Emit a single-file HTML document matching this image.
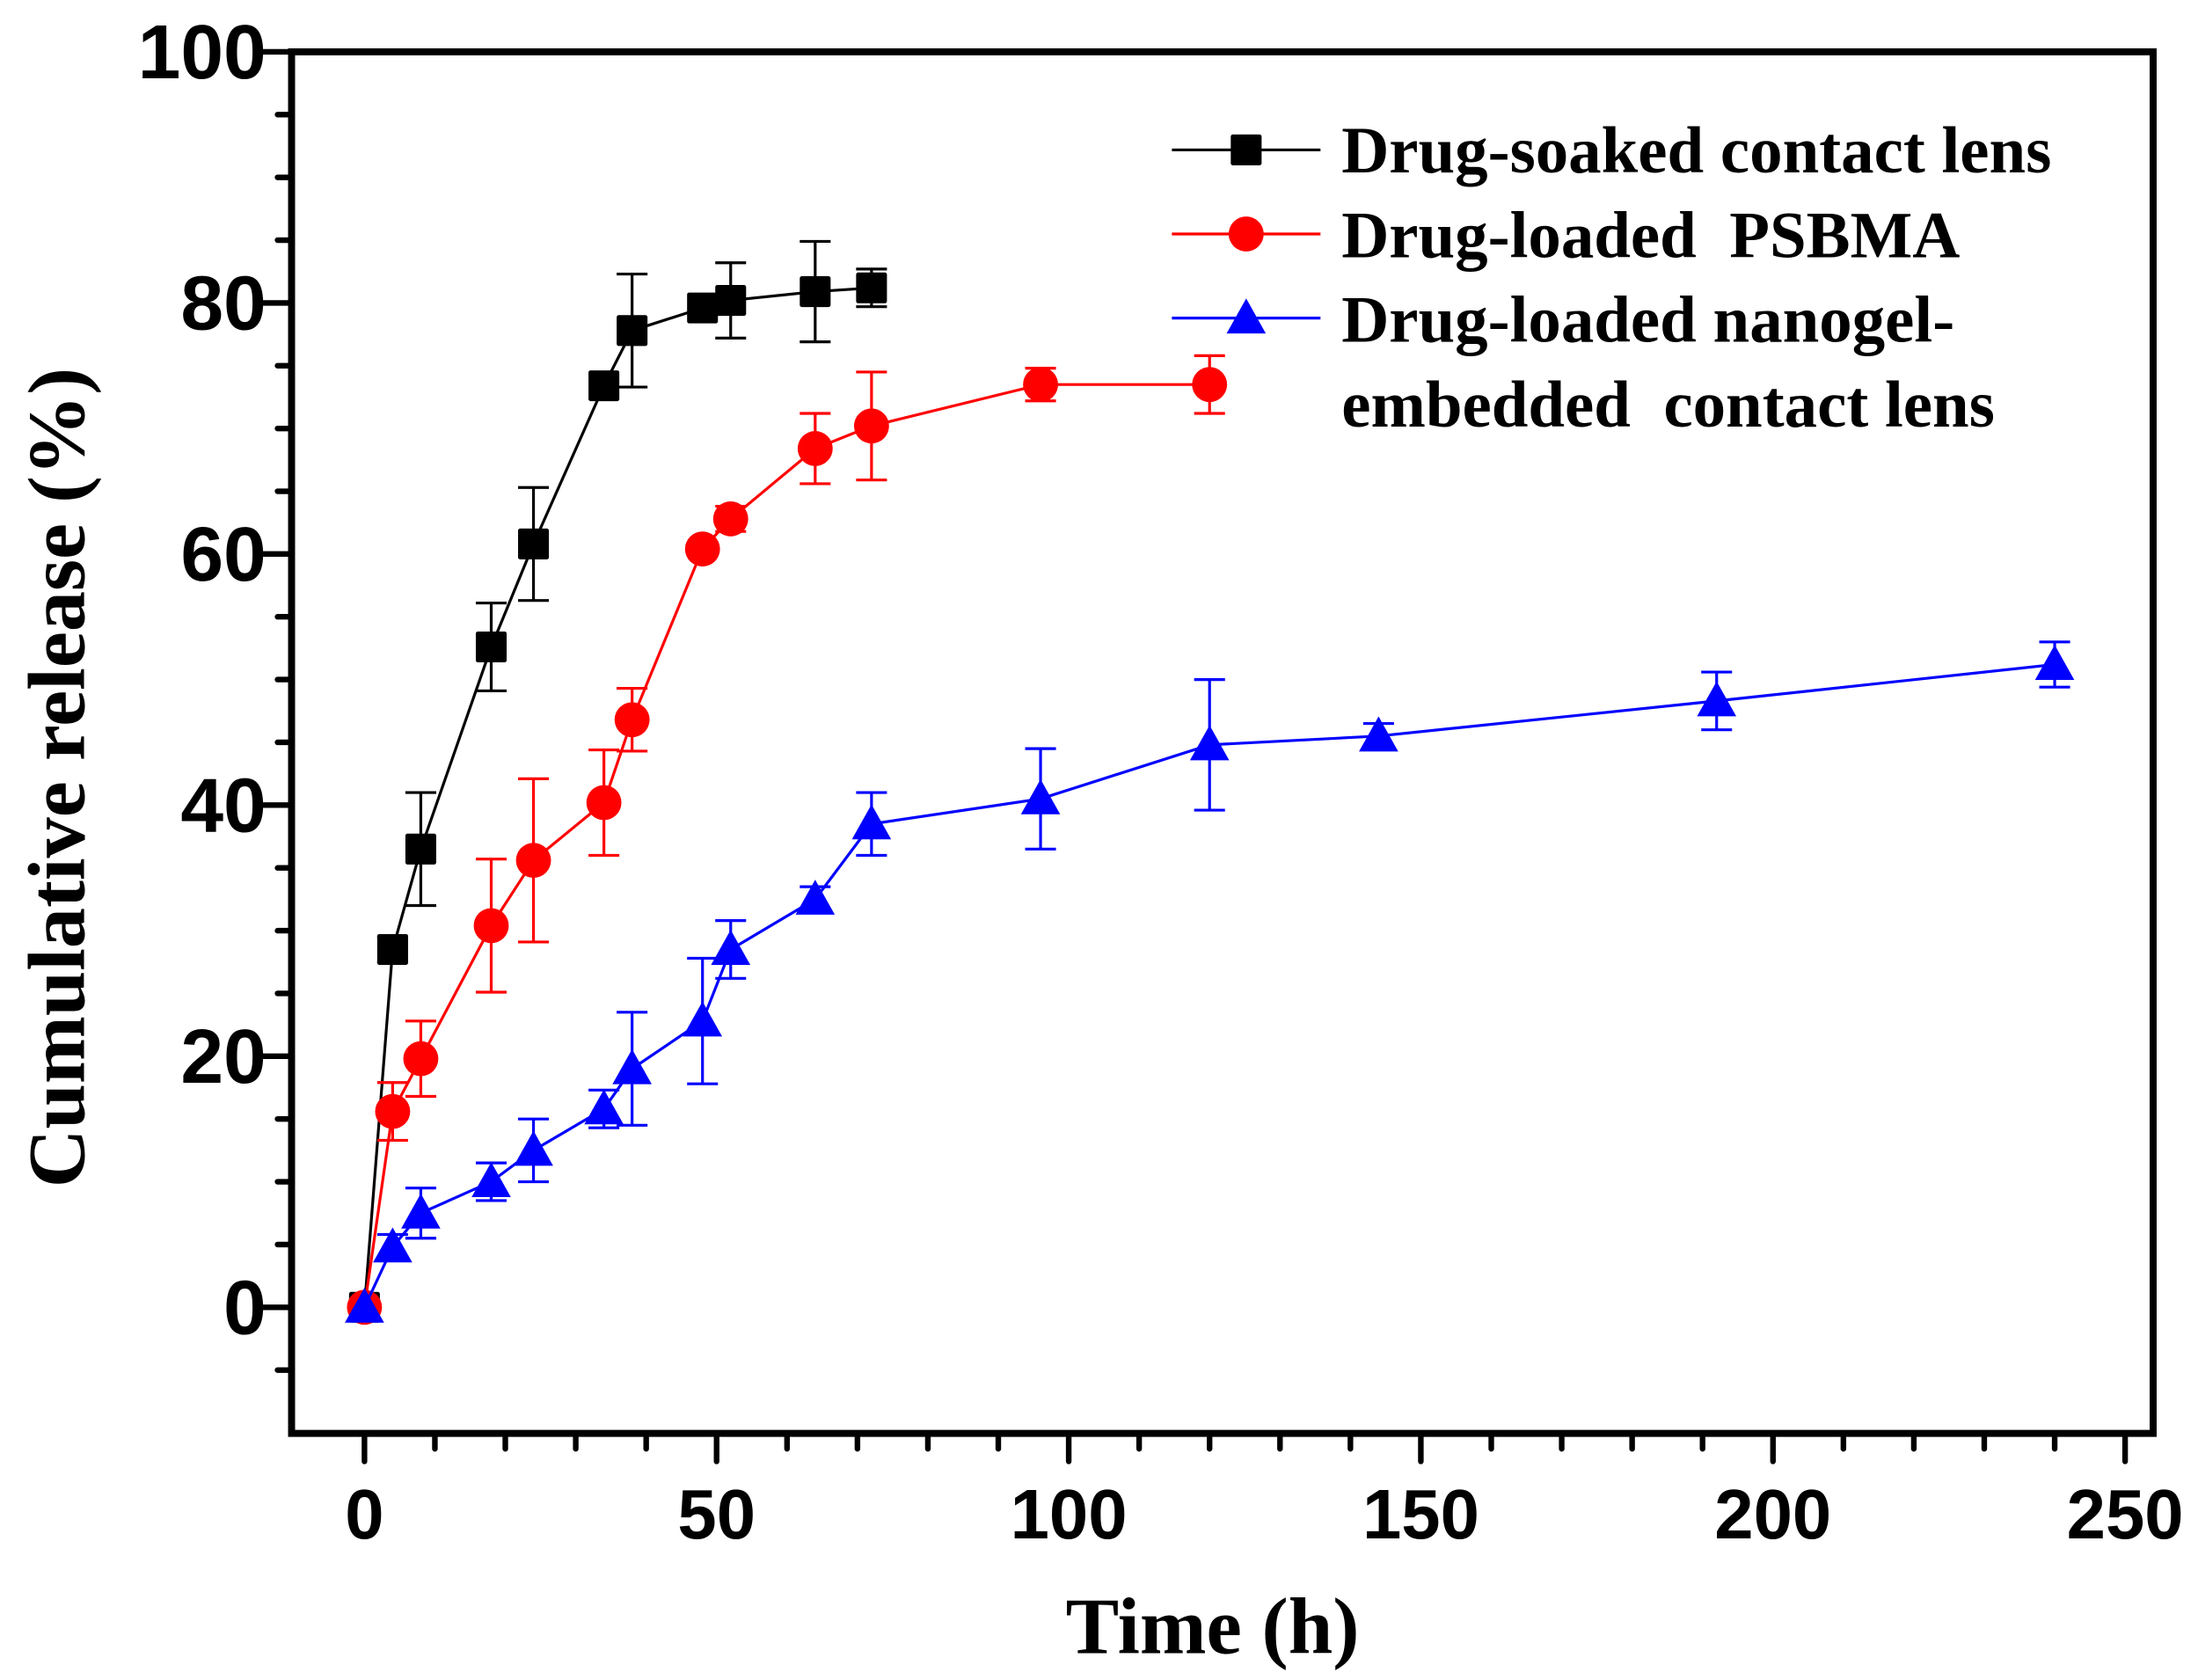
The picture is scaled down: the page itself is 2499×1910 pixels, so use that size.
<!DOCTYPE html>
<html><head><meta charset="utf-8"><style>html,body{margin:0;padding:0;background:#fff}svg{display:block}</style></head>
<body>
<svg id="s" xmlns="http://www.w3.org/2000/svg" width="2499" height="1910" viewBox="0 0 1568 1199" preserveAspectRatio="none">
<rect width="1568" height="1199" fill="#fff"/>
</svg>
<script>
const s=document.getElementById('s');const NS='http://www.w3.org/2000/svg';
function el(t,a,txt){const e=document.createElementNS(NS,t);for(const k in a)e.setAttribute(k,a[k]);if(txt!==undefined)e.textContent=txt;s.appendChild(e);return e;}
const X=v=>260+v*5.024, Y=v=>933-v*8.96;
for(let v=-5;v<=100;v+=5){const maj=v%20===0;el('line',{x1:maj?187:198,x2:208,y1:Y(v),y2:Y(v),stroke:'#000','stroke-width':4,'stroke-linecap':'round'});}
for(let v=0;v<=250;v+=10){const maj=v%50===0;el('line',{x1:X(v),x2:X(v),y1:1023,y2:maj?1043:1034,stroke:'#000','stroke-width':4,'stroke-linecap':'round'});}
el('rect',{x:208,y:37,width:1328,height:986,fill:'none',stroke:'#000','stroke-width':5});
for(let v=0;v<=100;v+=20)el('text',{x:190,y:Y(v)+19,'text-anchor':'end','font-family':'Liberation Sans,sans-serif','font-weight':'bold','font-size':55},v);
for(let v=0;v<=250;v+=50)el('text',{x:X(v),y:1098,'text-anchor':'middle','font-family':'Liberation Sans,sans-serif','font-weight':'bold','font-size':50},v);
el('text',{x:865,y:1180,'text-anchor':'middle','font-family':'Liberation Serif,serif','font-weight':'bold','font-size':57},'Time (h)');
el('text',{x:0,y:0,transform:'translate(60,555) rotate(-90)','text-anchor':'middle','font-family':'Liberation Serif,serif','font-weight':'bold','font-size':58},'Cumulative release (%)');
const B=[[0,0,0],[4,28.5,1],[8,36.5,4.5],[18,52.6,3.5],[24,60.8,4.5],[34,73.4,0],[38,77.8,4.5],[48,79.6,0],[52,80.2,3],[64,80.9,4],[72,81.2,1.5]];
const R=[[0,0,0],[4,15.6,2.3],[8,19.8,3],[18,30.4,5.3],[24,35.6,6.5],[34,40.2,4.2],[38,46.8,2.5],[48,60.4,0],[52,62.8,1],[64,68.4,2.8],[72,70.2,4.3],[96,73.5,1.3],[120,73.5,2.3]];
const L=[[0,0,0],[4,4.8,1],[8,7.5,2],[18,10,1.5],[24,12.5,2.5],[34,15.8,1.5],[38,19,4.5],[48,22.8,5],[52,28.5,2.3],[64,32.5,1],[72,38.5,2.5],[96,40.5,4],[120,44.8,5.2],[144,45.5,1],[192,48.3,2.3],[240,51.2,1.8]];
function marker(type,x,y,c){
 if(type==='s')el('rect',{x:x-11,y:y-11,width:22,height:22,fill:c,rx:1.5});
 else if(type==='c')el('circle',{cx:x,cy:y,r:12.5,fill:c});
 else el('polygon',{points:`${x},${y-14} ${x+14},${y+11} ${x-14},${y+11}`,fill:c});
}
function series(d,c,type){
 d.forEach(p=>{if(p[2]>0){const x=X(p[0]);el('line',{x1:x,x2:x,y1:Y(p[1]+p[2]),y2:Y(p[1]-p[2]),stroke:c,'stroke-width':2});
  [p[1]+p[2],p[1]-p[2]].forEach(v=>el('line',{x1:x-11,x2:x+11,y1:Y(v),y2:Y(v),stroke:c,'stroke-width':2}));}});
 el('polyline',{points:d.map(p=>X(p[0])+','+Y(p[1])).join(' '),fill:'none',stroke:c,'stroke-width':2});
 d.forEach(p=>marker(type,X(p[0]),Y(p[1]),c));
}
series(B,'#000','s');series(R,'#f00','c');series(L,'#00f','t');
const lg=[['#000','s',107],['#f00','c',167],['#00f','t',227]];
lg.forEach(([c,t,y])=>{el('line',{x1:836,x2:942,y1:y,y2:y,stroke:c,'stroke-width':2});marker(t,889,y,c);});
const tx=['Drug-soaked contact lens','Drug-loaded  PSBMA','Drug-loaded nanogel-','embedded  contact lens'];
tx.forEach((t,i)=>{const e=el('text',{x:957,y:123+i*60.5,'font-family':'Liberation Serif,serif','font-weight':'bold','font-size':47},t);e.style.whiteSpace='pre';});
</script>
</body></html>
